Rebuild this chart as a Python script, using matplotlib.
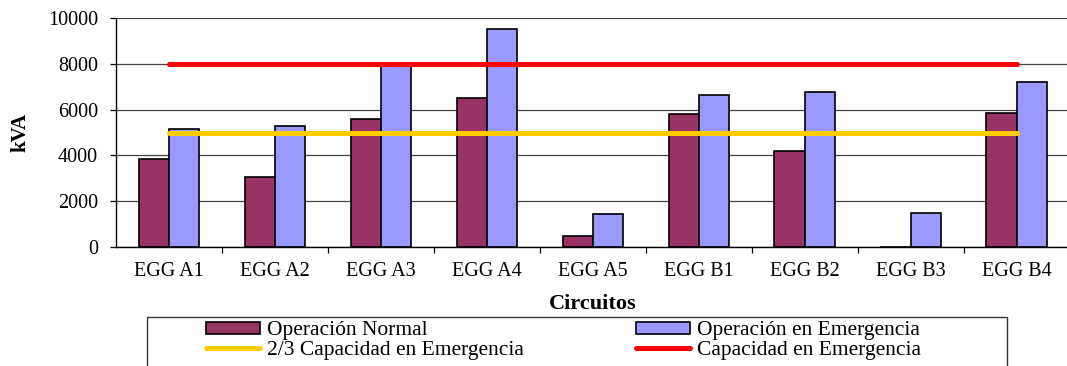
import matplotlib
matplotlib.use("Agg")
import matplotlib.pyplot as plt
import numpy as np
from matplotlib.patches import Patch, Rectangle
from matplotlib.lines import Line2D

categories = ["EGG A1", "EGG A2", "EGG A3", "EGG A4", "EGG A5",
              "EGG B1", "EGG B2", "EGG B3", "EGG B4"]
op_normal = [3850, 3050, 5600, 6500, 500, 5800, 4200, 0, 5850]
op_emergencia = [5150, 5280, 7900, 9500, 1450, 6650, 6750, 1500, 7200]
cap_dos_tercios = [5000, 5000, 5000, 5000, 5000, 5000, 5000, 5000, 5000]
cap_emergencia = [8000, 8000, 8000, 8000, 8000, 8000, 8000, 8000, 8000]
y_ticks = [0, 2000, 4000, 6000, 8000, 10000]

label_normal = "Operación Normal"
label_emerg = "Operación en Emergencia"
label_23 = "2/3 Capacidad en Emergencia"
label_cap = "Capacidad en Emergencia"

C_NORMAL = "#993366"
C_EMERG = "#9999FF"
C_YELLOW = "#FFCC00"
C_RED = "#FF0000"

plt.rcParams["font.family"] = ["Liberation Serif", "DejaVu Serif"]

W, H = 1067, 366
fig = plt.figure(figsize=(W / 100, H / 100), dpi=100)

def fx(px):
    return px / W

def fy(py):
    return 1 - py / H

ax_left, ax_right, ax_top, ax_bottom = 116, 1069.5, 18, 247
ax = fig.add_axes([fx(ax_left), fy(ax_bottom), (ax_right - ax_left) / W,
                   (ax_bottom - ax_top) / H])

x = np.arange(len(categories))
bw = 0.285
ax.bar(x - bw / 2, op_normal, width=bw, color=C_NORMAL, edgecolor="black",
       linewidth=1.2, zorder=2)
ax.bar(x + bw / 2, op_emergencia, width=bw, color=C_EMERG, edgecolor="black",
       linewidth=1.2, zorder=2)
ax.plot(x, cap_dos_tercios, color=C_YELLOW, linewidth=3.6, zorder=3,
        solid_capstyle="round")
ax.plot(x, cap_emergencia, color=C_RED, linewidth=3.6, zorder=3,
        solid_capstyle="round")

ax.set_xlim(-0.5, len(categories) - 0.5)
ax.set_ylim(0, 10000)
ax.set_yticks(y_ticks)
ax.set_yticklabels([str(v) for v in y_ticks], fontsize=14.5)
ax.yaxis.grid(True, color="#444444", linewidth=0.9, zorder=0)
ax.set_axisbelow(True)

ax.set_xticks(np.arange(len(categories) - 1) + 0.5)
ax.set_xticklabels([])
ax.set_xticks(x, minor=True)
ax.set_xticklabels(categories, minor=True, fontsize=14.5)
ax.tick_params(axis="x", which="major", direction="out", length=4, width=0.9)
ax.tick_params(axis="x", which="minor", length=0, pad=11)
ax.tick_params(axis="y", direction="out", length=4, width=0.9, pad=9)

for s in ["top", "right"]:
    ax.spines[s].set_visible(False)
ax.spines["left"].set_linewidth(1.0)
ax.spines["bottom"].set_linewidth(1.0)

fig.text(fx(20), fy(132.5), "kVA", rotation=90, ha="center", va="center",
         fontsize=15, fontweight="bold")
fig.text(fx(593), fy(304), "Circuitos", ha="center", va="center",
         fontsize=16, fontweight="bold")

# legend frame (extends below figure)
fig.patches.append(Rectangle((fx(146.7), fy(390)), fx(1006.7) - fx(146.7),
                             fy(316.7) - fy(390), transform=fig.transFigure,
                             facecolor="white", edgecolor="#333333",
                             linewidth=1.0, zorder=1))

entries = [
    (Patch(facecolor=C_NORMAL, edgecolor="black", linewidth=1.2), label_normal, 205.7, 331),
    (Patch(facecolor=C_EMERG, edgecolor="black", linewidth=1.2), label_emerg, 636, 331),
    (Line2D([], [], color=C_YELLOW, linewidth=3.6, solid_capstyle="round"), label_23, 205.7, 350),
    (Line2D([], [], color=C_RED, linewidth=3.6, solid_capstyle="round"), label_cap, 636, 350),
]
for handle, lab, px, py in entries:
    leg = fig.legend([handle], [lab], loc="center left",
                     bbox_to_anchor=(fx(px), fy(py)), frameon=False,
                     fontsize=15.5, handlelength=2.5, handleheight=0.5,
                     handletextpad=0.35, borderpad=0, borderaxespad=0)
    leg.set_zorder(5)

fig.savefig("out.png", dpi=100)
